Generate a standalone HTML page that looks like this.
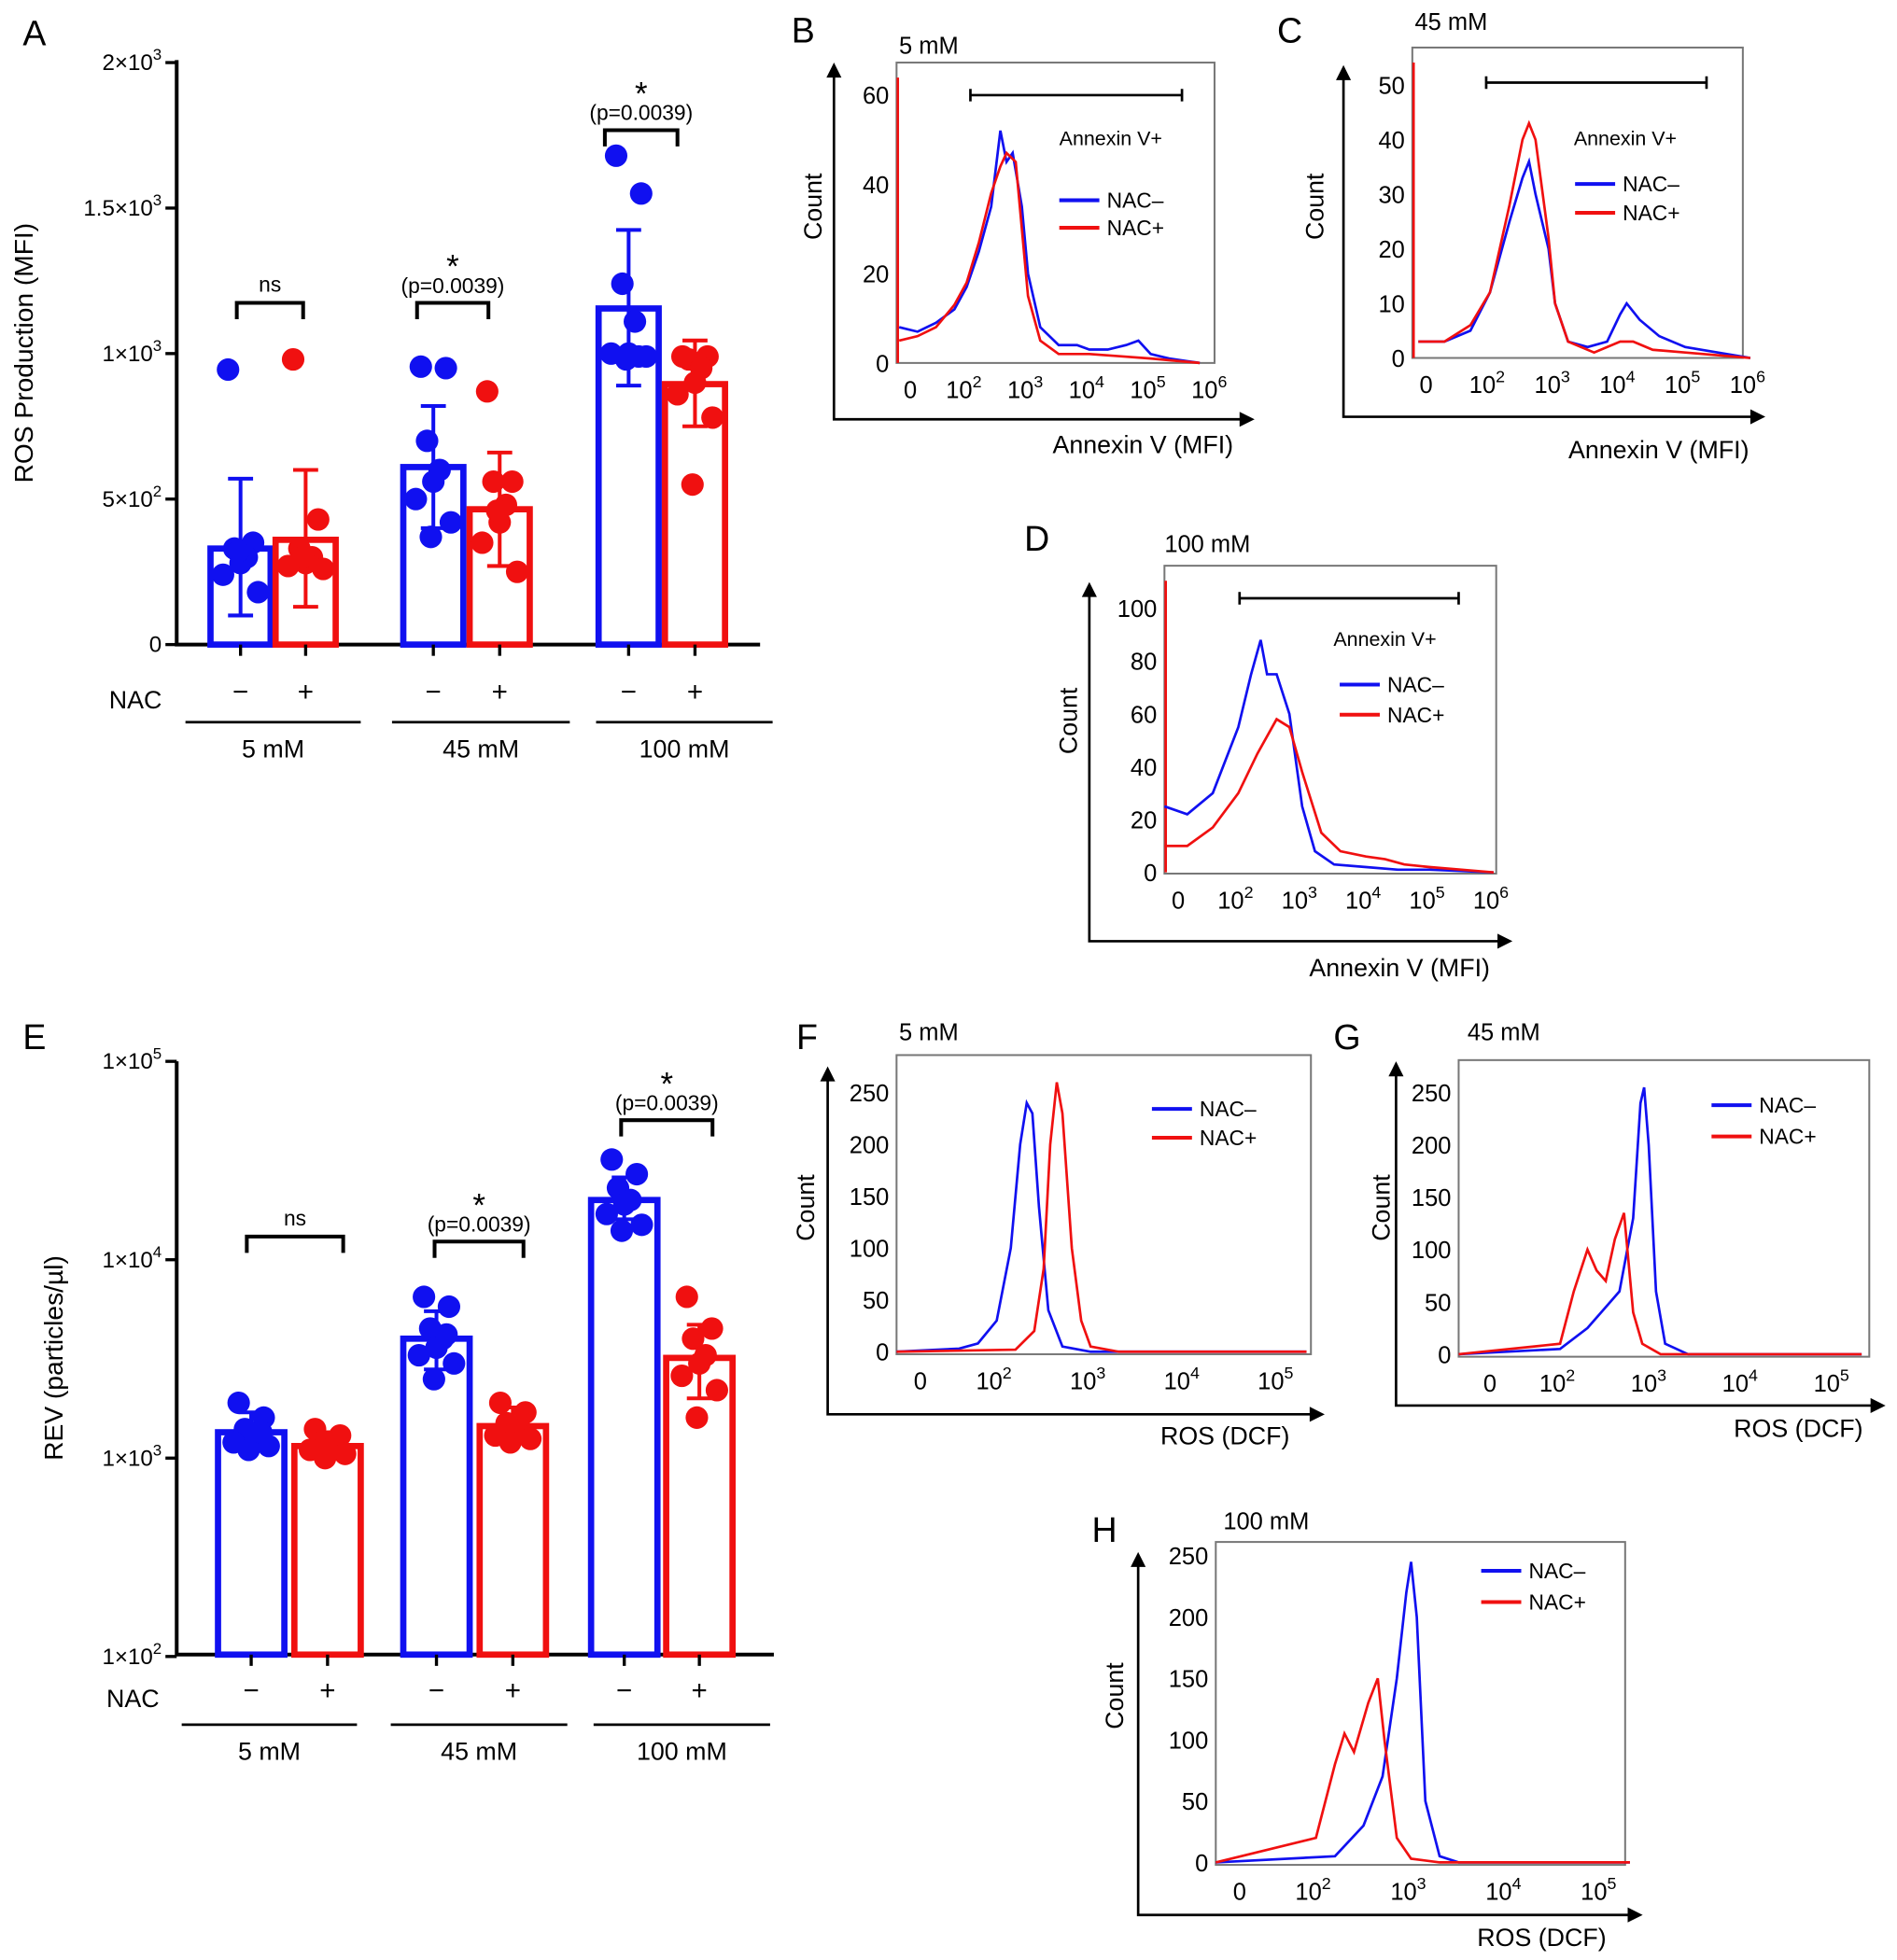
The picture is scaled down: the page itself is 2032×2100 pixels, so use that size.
<!DOCTYPE html>
<html><head><meta charset="utf-8"><style>
html,body{margin:0;padding:0;background:#fff}
svg{display:block;font-family:"Liberation Sans",Arial,sans-serif}
</style></head><body>
<svg id="fig" width="2032" height="2100" viewBox="0 0 1515 1566" xmlns="http://www.w3.org/2000/svg">
<g font-size="28" fill="#000">
<text x="18" y="36">A</text>
<text x="632" y="34">B</text>
<text x="1020" y="34">C</text>
<text x="818" y="440">D</text>
<text x="18" y="838">E</text>
<text x="636" y="838">F</text>
<text x="1065" y="838">G</text>
<text x="872" y="1232">H</text>
</g>
<g id="root"></g>
</svg>
<script>
// ---------- Panel A data ----------
const aGroups = ['5 mM','45 mM','100 mM'];
const aMeans = [330, 360, 610, 465, 1155, 895];
const aSdHi = [570, 600, 820, 660, 1425, 1045];
const aSdLo = [100, 130, 400, 270, 890, 750];
const aPts0 = [945, 350, 330, 300, 280, 240, 180, 320];
const aPts1 = [980, 430, 330, 300, 280, 270, 260, 300];
const aPts2 = [955, 950, 700, 600, 560, 500, 420, 370];
const aPts3 = [870, 560, 560, 480, 420, 350, 250, 460];
const aPts4 = [1680, 1550, 1240, 1110, 1000, 1000, 990, 980, 990];
const aPts5 = [990, 990, 980, 950, 900, 860, 780, 550];
const aTicks = [0, 500, 1000, 1500, 2000];
// ---------- Panel E data ----------
const eMeans = [1350, 1150, 4000, 1450, 20000, 3200];
const eSdHi = [1700, 1350, 5500, 1800, 26000, 4700];
const eSdLo = [1100, 1000, 2800, 1200, 16000, 2000];
const ePts0 = [1900, 1600, 1400, 1300, 1250, 1200, 1150, 1100, 1350];
const ePts1 = [1400, 1300, 1200, 1150, 1100, 1100, 1050, 1000];
const ePts2 = [6500, 5800, 4500, 4000, 3600, 3300, 3000, 2500, 4200];
const ePts3 = [1900, 1700, 1500, 1450, 1400, 1300, 1250, 1200];
const ePts4 = [32000, 27000, 23000, 20000, 19000, 17000, 15000, 14000];
const ePts5 = [6500, 4500, 4000, 3300, 3000, 2600, 2200, 1600];
const eTicks = [100, 1000, 10000, 100000];
// ---------- Flow histogram data (x in log decades) ----------
const bBx=[0.9,1.2,1.5,1.8,2.0,2.2,2.4,2.55,2.65,2.75,2.9,3.0,3.2,3.5,3.8,4.0,4.3,4.6,4.8,5.0,5.3,5.8];
const bBy=[8,7,9,12,17,25,35,52,45,47,35,20,8,4,4,3,3,4,5,2,1,0];
const bRx=[0.9,1.2,1.5,1.8,2.0,2.2,2.4,2.55,2.65,2.8,3.0,3.2,3.5,4.0,4.5,5.0,5.8];
const bRy=[5,6,8,13,18,27,38,44,47,45,15,5,2,2,1.5,1,0];
const cBx=[0.9,1.3,1.7,2.0,2.3,2.5,2.6,2.7,2.9,3.0,3.2,3.5,3.8,4.0,4.1,4.3,4.6,5.0,5.5,6.0];
const cBy=[3,3,5,12,25,33,36,30,20,10,3,2,3,8,10,7,4,2,1,0];
const cRx=[0.9,1.3,1.7,2.0,2.3,2.5,2.6,2.7,2.9,3.0,3.2,3.6,4.0,4.2,4.5,5.0,6.0];
const cRy=[3,3,6,12,28,40,43,40,22,10,3,1,3,3,1.5,1,0];
const dBx=[0.8,1.2,1.6,2.0,2.2,2.35,2.45,2.6,2.8,3.0,3.2,3.5,4.0,4.5,5.0,6.0];
const dBy=[25,22,30,55,75,88,75,75,60,25,8,3,2,1,1,0];
const dRx=[0.8,1.2,1.6,2.0,2.3,2.6,2.8,3.0,3.3,3.6,4.0,4.3,4.6,5.0,6.0];
const dRy=[10,10,17,30,45,58,55,38,15,8,6,5,3,2,0];
const fBx=[0.8,1.6,1.8,2.0,2.15,2.25,2.32,2.38,2.45,2.55,2.7,3.0,5.3];
const fBy=[0,3,8,30,100,200,240,230,140,40,5,0,0];
const fRx=[0.8,2.2,2.4,2.5,2.57,2.64,2.7,2.8,2.9,3.0,3.3,5.3];
const fRy=[0,2,20,80,200,260,230,100,30,5,0,0];
const gBx=[0.8,2.0,2.3,2.5,2.65,2.8,2.88,2.92,2.97,3.05,3.15,3.4,5.3];
const gBy=[0,5,25,45,60,130,240,255,200,60,10,0,0];
const gRx=[0.8,2.0,2.15,2.3,2.4,2.5,2.6,2.7,2.8,2.9,3.1,5.3];
const gRy=[0,10,60,100,80,70,110,135,40,10,0,0];
const hBx=[0.8,2.2,2.5,2.7,2.85,2.95,3.0,3.06,3.15,3.3,3.5,5.3];
const hBy=[0,5,30,70,150,220,245,200,50,5,0,0];
const hRx=[0.8,2.0,2.2,2.3,2.4,2.55,2.65,2.72,2.85,3.0,3.3,5.3];
const hRy=[0,20,80,105,90,130,150,100,20,3,0,0];

const NS='http://www.w3.org/2000/svg';
const root=document.getElementById('root');
function mk(tag,attrs,parent){const e=document.createElementNS(NS,tag);for(const k in attrs)e.setAttribute(k,attrs[k]);(parent||root).appendChild(e);return e;}
function txt(x,y,s,size,anchor,parent){const t=mk('text',{x:x,y:y,'font-size':size,'text-anchor':anchor||'middle'},parent);t.textContent=s;return t;}
function sup(x,y,base,exp,size,parent){const t=mk('text',{x:x,y:y,'font-size':size,'text-anchor':'end'},parent);t.appendChild(document.createTextNode(base));const s=document.createElementNS(NS,'tspan');s.setAttribute('dy',-size*0.45);s.setAttribute('font-size',size*0.7);s.textContent=exp;t.appendChild(s);return t;}
function sciLabel(v,x,y,g){
  if(v===0)return txt(x,y,'0',18,'end',g);
  const e=Math.floor(Math.log10(v)+1e-9);
  const m=Math.round(v/Math.pow(10,e)*10)/10;
  return sup(x,y,m+'×10',String(e),18,g);
}
const BLUE='#1010f0', RED='#f01010';

// ===== Bar chart builder =====
function barChart(o){
  const g=mk('g',{});
  
  
  const y=o.y;
  const ax=mk('path',{d:`M${o.ax} ${o.yTop} V${o.yBot} H${o.xEnd}`,stroke:'#000','stroke-width':3,fill:'none'},g);
  
  
  o.ticks.forEach(v=>{
    const yy=y(v);
    const tk=mk('line',{x1:o.ax-9,x2:o.ax,y1:yy,y2:yy,stroke:'#000','stroke-width':2.5},g);
    
    
    const lb=sciLabel(v,o.ax-12,yy+6,g);
    
    
  });
  const yt=mk('text',{x:0,y:0,'font-size':21,'text-anchor':'middle',transform:`translate(${o.titleX},${o.titleY}) rotate(-90)`},g);
  yt.textContent=o.title;
  
  
  const pts=o.pts;
  const offs=[-10,10,-5,5,0,-14,14,-2,8];
  for(let i=0;i<6;i++){
    const x0=o.barX[i], w=o.barW, c=i%2?RED:BLUE, cx=x0+w/2;
    const b=mk('rect',{x:x0+2,y:y(o.means[i]),width:w-4,height:o.yBot-y(o.means[i]),fill:'none',stroke:c,'stroke-width':5},g);
    
    
    const eb=mk('path',{d:`M${cx} ${y(o.hi[i])} V${y(o.lo[i])} M${cx-10} ${y(o.hi[i])} H${cx+10} M${cx-10} ${y(o.lo[i])} H${cx+10}`,stroke:c,'stroke-width':3,fill:'none'},g);
    
    
    pts[i].forEach((v,j)=>{
      const p=mk('circle',{cx:cx+offs[j%offs.length],cy:y(v),r:9,fill:c},g);
      
      
    });
    const xt=mk('line',{x1:cx,x2:cx,y1:o.yBot,y2:o.yBot+9,stroke:'#000','stroke-width':2.5},g);
    
    
    const sg=txt(cx,o.signY,i%2?'+':'−',22,'middle',g);
    
    
  }
  const nl=txt(o.nacX,o.signY+6,'NAC',20,'middle',g);
  
  
  aGroups.forEach((gname,k)=>{
    const l=mk('line',{x1:o.grp[k][0],x2:o.grp[k][1],y1:o.grpY,y2:o.grpY,stroke:'#000','stroke-width':2},g);
    
    
    const t=txt((o.grp[k][0]+o.grp[k][1])/2,o.grpY+28,gname,20,'middle',g);
    
    
  });
  o.sig.forEach(s=>{
    const br=mk('path',{d:`M${s.x1} ${s.y+13} V${s.y} H${s.x2} V${s.y+13}`,stroke:'#000','stroke-width':3,fill:'none'},g);
    
    
    const m=(s.x1+s.x2)/2;
    if(s.ns){const t=txt(m,s.y-9,'ns',17,'middle',g);}
    else{
      const t=txt(m,s.y-8,'(p=0.0039)',17,'middle',g);
      
      
      const st=txt(m,s.y-20,'*',26,'middle',g);
      
      
    }
  });
}
const yA=v=>515-v*465/2000;
barChart({name:'panel-a-ros-bar-chart',y:yA,ax:141,yTop:48,yBot:515,xEnd:607,ticks:aTicks,
  title:'ROS Production (MFI)',titleX:26,titleY:282,
  means:aMeans,hi:aSdHi,lo:aSdLo,pts:[aPts0,aPts1,aPts2,aPts3,aPts4,aPts5],
  barX:[166,218,320,373,476,529],barW:52,signY:560,nacX:108,grpY:577,
  grp:[[148,288],[313,455],[476,617]],
  sig:[{x1:189,x2:242,y:242,ns:true},{x1:333,x2:390,y:242},{x1:483,x2:541,y:104}]});
const yE=v=>1165-(Math.log10(v)-3)*158.5;
barChart({name:'panel-e-rev-bar-chart',y:yE,ax:141,yTop:848,yBot:1322,xEnd:618,ticks:eTicks,
  title:'REV (particles/µl)',titleX:50,titleY:1085,
  means:eMeans,hi:eSdHi,lo:eSdLo,pts:[ePts0,ePts1,ePts2,ePts3,ePts4,ePts5],
  barX:[172,233,320,381,470,530],barW:57,signY:1358,nacX:106,grpY:1378,
  grp:[[145,285],[312,453],[474,615]],
  sig:[{x1:197,x2:274,y:988,ns:true},{x1:347,x2:418,y:992},{x1:496,x2:569,y:895}]});

// ===== Histogram builder =====
function hist(o){
  const g=mk('g',{});
  
  
  const X=d=>o.x2+(d-2)*o.k, Y=v=>o.y0-v*o.ky;
  const box=mk('rect',{x:o.bx,y:o.by,width:o.bw,height:o.bh,fill:'none',stroke:'#777','stroke-width':1.5},g);
  
  
  const ax=mk('path',{d:`M${o.axX} ${o.axTop+10} V${o.axY} H${o.axRight-10}`,stroke:'#000','stroke-width':2,fill:'none'},g);
  
  
  const ar1=mk('path',{d:`M${o.axX-6} ${o.axTop+12} L${o.axX} ${o.axTop} L${o.axX+6} ${o.axTop+12}Z`,fill:'#000'},g);
  
  
  const ar2=mk('path',{d:`M${o.axRight-12} ${o.axY-6} L${o.axRight} ${o.axY} L${o.axRight-12} ${o.axY+6}Z`,fill:'#000'},g);
  
  
  o.yt.forEach(v=>{
    const t=txt(o.bx-6,Y(v)+7,String(v),19,'end',g);
    
    
  });
  const z=txt(o.zeroX,o.by+o.bh+28,'0',19,'middle',g);
  
  
  o.xt.forEach(e=>{
    const t=sup(X(e)+12,o.by+o.bh+28,'10',String(e),19,g);
    
    
  });
  const yl=mk('text',{x:0,y:0,'font-size':20,'text-anchor':'middle',transform:`translate(${o.ylX},${o.ylY}) rotate(-90)`},g);
  yl.textContent='Count';
  
  
  const xl=txt(o.xlX,o.xlY,o.xlabel,20,'end',g);
  
  
  const ti=txt(o.tX,o.tY,o.title,19,'start',g);
  
  
  if(o.gate){
    const gp=mk('path',{d:`M${o.gate[0]} ${o.gate[2]} H${o.gate[1]} M${o.gate[0]} ${o.gate[2]-5} V${o.gate[2]+5} M${o.gate[1]} ${o.gate[2]-5} V${o.gate[2]+5}`,stroke:'#000','stroke-width':2,fill:'none'},g);
    
    
    const gl=txt(o.gate[3],o.gate[4],'Annexin V+',16,'start',g);
    
    
    const sp=mk('line',{x1:o.bx+1,x2:o.bx+1,y1:o.y0,y2:o.by+12,stroke:RED,'stroke-width':2},g);
    
    
  }
  const cb=mk('polyline',{points:o.bxs.map((d,i)=>`${Math.max(o.bx,X(d))},${Y(o.bys[i])}`).join(' '),fill:'none',stroke:BLUE,'stroke-width':2},g);
  
  
  const cr=mk('polyline',{points:o.rxs.map((d,i)=>`${Math.max(o.bx,X(d))},${Y(o.rys[i])}`).join(' '),fill:'none',stroke:RED,'stroke-width':2},g);
  
  
  [['NAC–',BLUE,0],['NAC+',RED,1]].forEach(([s,c,k])=>{
    const yy=o.lg[1]+k*o.lg[2];
    const ln=mk('line',{x1:o.lg[0],x2:o.lg[0]+32,y1:yy,y2:yy,stroke:c,'stroke-width':3},g);
    
    
    const t=txt(o.lg[0]+38,yy+6,s,17,'start',g);
    
    
  });
}
hist({name:'panel-b-histogram',bx:716,by:50,bw:254,bh:240,y0:290,ky:3.57,x2:772,k:49,zeroX:727,xt:[2,3,4,5,6],yt:[0,20,40,60],
  axX:666,axY:335,axTop:50,axRight:1002,ylX:656,ylY:165,xlX:985,xlY:362,xlabel:'Annexin V (MFI)',tX:718,tY:43,title:'5 mM',
  gate:[775,944,76,846,116],lg:[846,160,22],bxs:bBx,bys:bBy,rxs:bRx,rys:bRy});
hist({name:'panel-c-histogram',bx:1128,by:38,bw:264,bh:248,y0:286,ky:4.36,x2:1190,k:52,zeroX:1139,xt:[2,3,4,5,6],yt:[0,10,20,30,40,50],
  axX:1073,axY:333,axTop:52,axRight:1410,ylX:1057,ylY:165,xlX:1397,xlY:366,xlabel:'Annexin V (MFI)',tX:1130,tY:24,title:'45 mM',
  gate:[1187,1363,66,1257,116],lg:[1258,147,23],bxs:cBx,bys:cBy,rxs:cRx,rys:cRy});
hist({name:'panel-d-histogram',bx:930,by:452,bw:265,bh:246,y0:697,ky:2.11,x2:989,k:51,zeroX:941,xt:[2,3,4,5,6],yt:[0,20,40,60,80,100],
  axX:870,axY:752,axTop:465,axRight:1208,ylX:860,ylY:576,xlX:1190,xlY:780,xlabel:'Annexin V (MFI)',tX:930,tY:441,title:'100 mM',
  gate:[990,1165,478,1065,516],lg:[1070,547,24],bxs:dBx,bys:dBy,rxs:dRx,rys:dRy});
hist({name:'panel-f-histogram',bx:716,by:843,bw:331,bh:239,y0:1080,ky:0.828,x2:796,k:75,zeroX:735,xt:[2,3,4,5],yt:[0,50,100,150,200,250],
  axX:661,axY:1130,axTop:852,axRight:1058,ylX:650,ylY:965,xlX:1030,xlY:1154,xlabel:'ROS (DCF)',tX:718,tY:831,title:'5 mM',
  lg:[920,886,23],bxs:fBx,bys:fBy,rxs:fRx,rys:fRy});
hist({name:'panel-g-histogram',bx:1165,by:847,bw:328,bh:237,y0:1082,ky:0.836,x2:1246,k:73,zeroX:1190,xt:[2,3,4,5],yt:[0,50,100,150,200,250],
  axX:1115,axY:1123,axTop:848,axRight:1506,ylX:1110,ylY:965,xlX:1488,xlY:1148,xlabel:'ROS (DCF)',tX:1172,tY:831,title:'45 mM',
  lg:[1367,883,25],bxs:gBx,bys:gBy,rxs:gRx,rys:gRy});
hist({name:'panel-h-histogram',bx:971,by:1232,bw:327,bh:258,y0:1488,ky:0.98,x2:1051,k:76,zeroX:990,xt:[2,3,4,5],yt:[0,50,100,150,200,250],
  axX:909,axY:1530,axTop:1240,axRight:1312,ylX:897,ylY:1355,xlX:1283,xlY:1555,xlabel:'ROS (DCF)',tX:977,tY:1222,title:'100 mM',
  lg:[1183,1255,25],bxs:hBx,bys:hBy,rxs:hRx,rys:hRy});
</script>
</body></html>
